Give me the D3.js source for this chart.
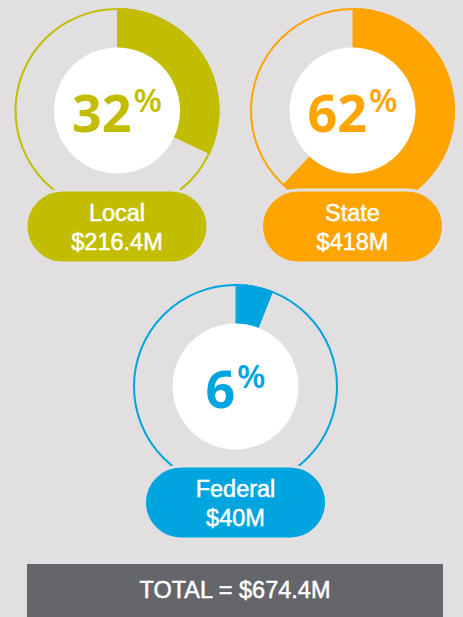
<!DOCTYPE html>
<html>
<head>
<meta charset="utf-8">
<script src="https://d3js.org/d3.v7.min.js"></script>
<style>
  body { margin: 0; background: #e1dfe0; }
  svg { display: block; }
</style>
</head>
<body>
<div id="vis"></div>
<script>
  // funding share by source
  var categories = ["Local", "State", "Federal"]
  var amounts = ["$216.4M", "$418M", "$40M"]
  var percents = [32, 62, 6]
  var colors = ["#c3bd00", "#ffa400", "#00a5df"]
  var totalLabel = "TOTAL = $674.4M"

  var width = 463, height = 617
  var bg = "#e1dfe0"

  // where each ring sits
  var slots = [[117, 110.5], [352.5, 110.5], [235.5, 386.5]]
  var outerR = 102.5, innerR = 63
  var pillW = 182, pillH = 73

  var svg = d3.select("#vis")
    .append("svg")
      .attr("width", width)
      .attr("height", height)

  svg.append("rect")
    .attr("width", width)
    .attr("height", height)
    .attr("fill", bg)

  // percent -> angle
  var angle = d3.scaleLinear().domain([0, 100]).range([0, 2 * Math.PI])

  var arc = d3.arc()
    .innerRadius(innerR - 2)
    .outerRadius(outerR)
    .startAngle(0)
    .endAngle(function(d) { return angle(d) })

  var groups = svg.selectAll("g.ring")
    .data(categories)
    .enter()
    .append("g")
      .attr("class", "ring")
      .attr("transform", function(d, i) { return "translate(" + slots[i][0] + "," + slots[i][1] + ")" })

  // thin outline
  groups.append("circle")
    .attr("r", outerR - 1)
    .attr("fill", "none")
    .attr("stroke", function(d, i) { return colors[i] })
    .attr("stroke-width", 2)

  // filled share
  groups.append("path")
    .attr("d", function(d, i) { return arc(percents[i]) })
    .attr("fill", function(d, i) { return colors[i] })

  // white centre
  groups.append("circle")
    .attr("r", innerR)
    .attr("fill", "white")

  var pct = groups.append("text")
    .attr("text-anchor", "middle")
    .attr("y", 21.5)
    .attr("fill", function(d, i) { return colors[i] })
    .style("font-family", "'Open Sans', sans-serif")

  pct.append("tspan")
    .style("font-size", "52px")
    .style("font-weight", "700")
    .text(function(d, i) { return percents[i] })

  pct.append("tspan")
    .attr("dx", 2)
    .attr("dy", -20)
    .style("font-size", "33px")
    .style("font-weight", "600")
    .text("%")

  // pill labels
  groups.append("rect")
    .attr("x", -pillW / 2)
    .attr("y", 79.5)
    .attr("width", pillW)
    .attr("height", pillH)
    .attr("rx", pillH / 2)
    .attr("fill", function(d, i) { return colors[i] })
    .attr("stroke", bg)
    .attr("stroke-width", 3)

  groups.append("text")
    .attr("class", "lbl")
    .attr("y", 110.5)
    .text(function(d) { return d })

  groups.append("text")
    .attr("class", "lbl")
    .attr("y", 139.5)
    .text(function(d, i) { return amounts[i] })

  // total bar
  svg.append("rect")
    .attr("x", 27)
    .attr("y", 564)
    .attr("width", 416)
    .attr("height", 60)
    .attr("fill", "#65666b")

  svg.append("text")
    .attr("class", "lbl")
    .attr("x", 235)
    .attr("y", 597.5)
    .text(totalLabel)

  svg.selectAll("text.lbl")
    .attr("text-anchor", "middle")
    .attr("fill", "white")
    .attr("stroke", "white")
    .attr("stroke-width", 0.5)
    .style("font-family", "'Liberation Sans', Arial, sans-serif")
    .style("font-size", "23.5px")
</script>
</body>
</html>
